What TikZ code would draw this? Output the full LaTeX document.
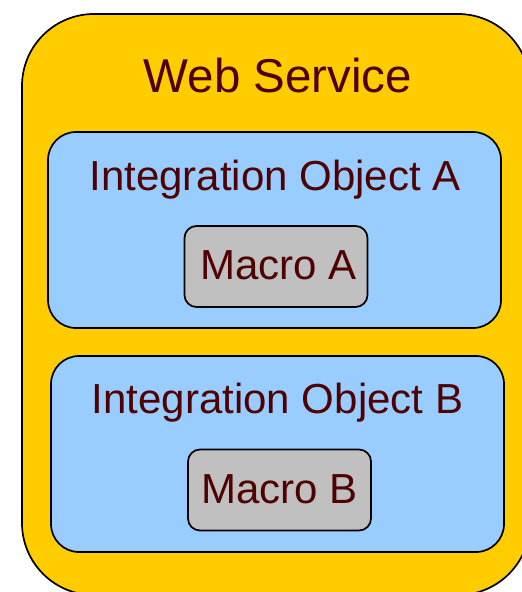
\documentclass[tikz,border=0pt]{standalone}
\usepackage{fontspec}
\setmainfont{Liberation Sans}
\definecolor{wsfill}{HTML}{FFCC00}
\definecolor{iofill}{HTML}{99CCFF}
\definecolor{macfill}{HTML}{C0C0C0}
\definecolor{labeltext}{HTML}{4F0000}
\tikzset{
  panel/.style={draw=black, line width=1.7pt, inner sep=0pt, outer sep=0pt},
  wsbox/.style={panel, fill=wsfill, rounded corners=72pt, minimum width=508pt, minimum height=581pt},
  iobox/.style={panel, fill=iofill, rounded corners=28pt, minimum width=453pt, minimum height=196pt},
  macrobox/.style={panel, fill=macfill, rounded corners=12pt, minimum width=183pt, minimum height=81pt},
  caption/.style={anchor=base, inner sep=0pt, text=labeltext},
  bigcaption/.style={caption, font=\fontsize{47.5}{50}\selectfont},
  midcaption/.style={caption, font=\fontsize{42}{44}\selectfont},
}
\begin{document}
\begin{tikzpicture}[x=1pt, y=-1pt]
  \useasboundingbox (0,0) rectangle (522,592);
  \clip (0,0) rectangle (522,592);
  % outer web service container
  \node[wsbox] (ws) at (276,304.5) {};
  \node[bigcaption] (wstitle) at (278,92) {Web Service};
  % integration object A
  \node[iobox] (ioa) at (274.5,230) {};
  \node[midcaption] (ioatitle) at (275,190) {Integration Object A};
  \node[macrobox] (maca) at (276,266.5) {};
  \node[midcaption] (macatext) at (278.5,279) {Macro A};
  % integration object B
  \node[iobox] (iob) at (277.5,454) {};
  \node[midcaption] (iobtitle) at (277.5,413) {Integration Object B};
  \node[macrobox] (macb) at (279.5,490) {};
  \node[midcaption] (macbtext) at (279.5,503) {Macro B};
\end{tikzpicture}
\end{document}
